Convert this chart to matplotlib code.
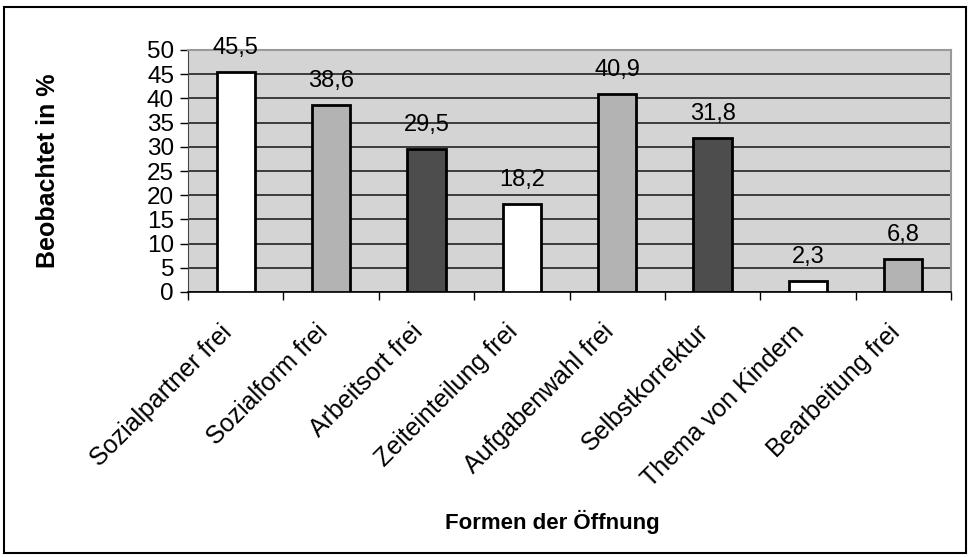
import matplotlib.pyplot as plt
from matplotlib.patches import Rectangle
from matplotlib.transforms import ScaledTranslation

plt.rcParams['font.family'] = ['Liberation Sans', 'DejaVu Sans']

# Formen der Öffnung
kategorien = ['Sozialpartner frei', 'Sozialform frei', 'Arbeitsort frei', 'Zeiteinteilung frei',
              'Aufgabenwahl frei', 'Selbstkorrektur', 'Thema von Kindern', 'Bearbeitung frei']
werte = [45.5, 38.6, 29.5, 18.2, 40.9, 31.8, 2.3, 6.8]
farben = ['#ffffff', '#b3b3b3', '#4d4d4d', '#ffffff', '#b3b3b3', '#4d4d4d', '#ffffff', '#b3b3b3']
yticks = [0, 5, 10, 15, 20, 25, 30, 35, 40, 45, 50]

fig = plt.figure(figsize=(9.69, 5.57), dpi=100)
ax = fig.add_axes([188/969, 1-292/557, (951-188)/969, (292-50)/557])
ax.set_facecolor('#d4d4d4')

x = list(range(len(werte)))
ax.bar(x, werte, width=0.4, color=farben, edgecolor='black', linewidth=2, zorder=3)

# Werte ueber den Balken
for xi, w in zip(x, werte):
    ax.annotate(str(w).replace('.', ','), (xi, w), xytext=(0, 13), textcoords='offset points',
                ha='center', va='baseline', fontsize=17, zorder=4)

ax.set_xlim(-0.5, len(werte)-0.5)
ax.set_ylim(0, 50)
ax.set_yticks(yticks)
ax.set_yticklabels([str(t) for t in yticks], fontsize=17.5)
ax.yaxis.grid(True, color='#222222', linewidth=1.2, zorder=0)
ax.set_axisbelow(True)

ax.set_xticks([i - 0.5 for i in range(len(werte)+1)])
ax.set_xticklabels([])
ax.tick_params(axis='x', length=6, width=1, direction='out')
ax.tick_params(axis='y', length=6, width=1, direction='out', pad=4)

# Kategorien schraeg unter der Achse
versatz = ScaledTranslation(-16/100, -28/100, fig.dpi_scale_trans)
for xi, k in zip(x, kategorien):
    ax.text(xi, 0, k, transform=ax.get_xaxis_transform() + versatz, rotation=45,
            ha='right', va='top', rotation_mode='anchor', fontsize=18)

for s in ['top', 'right']:
    ax.spines[s].set_color('#999999')
    ax.spines[s].set_linewidth(1.5)
ax.spines['left'].set_color('#444444')
ax.spines['bottom'].set_color('black')
ax.spines['bottom'].set_linewidth(1.2)

fig.text(48/969, 1-171/557, 'Beobachtet in %', rotation=90, ha='center', va='center',
         fontsize=18, fontweight='bold')
fig.text(552/969, 1-522/557, 'Formen der Öffnung', ha='center', va='center',
         fontsize=16, fontweight='bold')

fig.patches.append(Rectangle((4/969, 1-553/557), 962/969, 546/557, transform=fig.transFigure,
                             fill=False, edgecolor='black', linewidth=1.5))

plt.savefig('out.png', dpi=100)
